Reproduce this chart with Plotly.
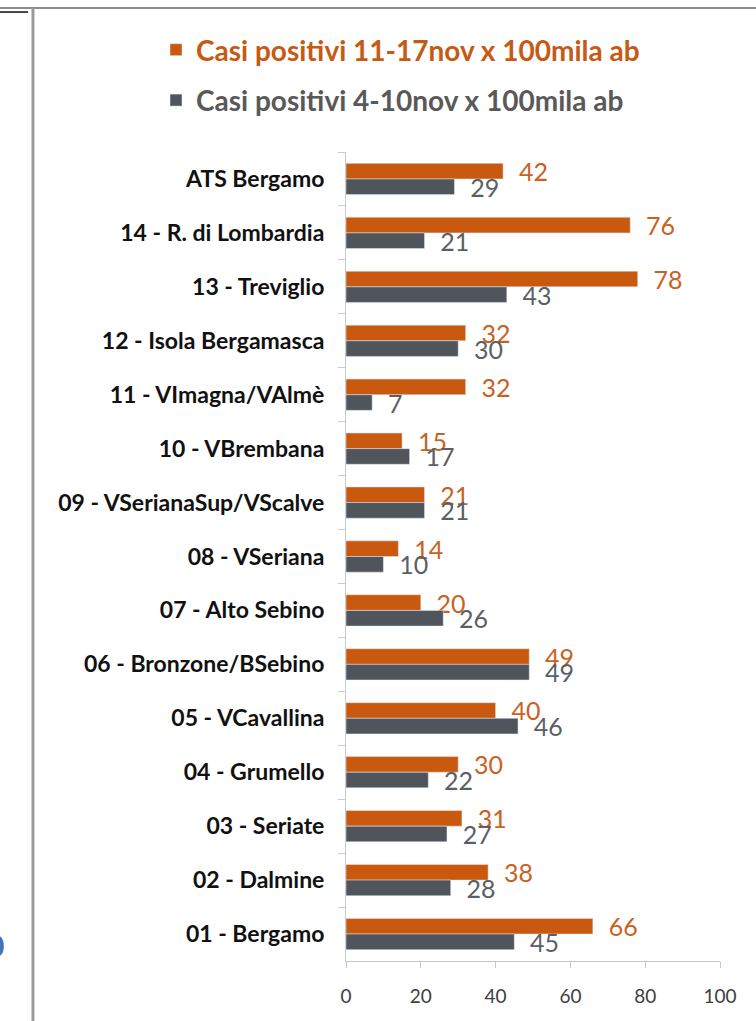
import plotly.graph_objects as go

# --- dati ---
categorie = [
    "ATS Bergamo", "14 - R. di Lombardia", "13 - Treviglio", "12 - Isola Bergamasca",
    "11 - VImagna/VAlmè", "10 - VBrembana", "09 - VSerianaSup/VScalve", "08 - VSeriana",
    "07 - Alto Sebino", "06 - Bronzone/BSebino", "05 - VCavallina", "04 - Grumello",
    "03 - Seriate", "02 - Dalmine", "01 - Bergamo",
]
casi_11_17nov = [42, 76, 78, 32, 32, 15, 21, 14, 20, 49, 40, 30, 31, 38, 66]
casi_4_10nov = [29, 21, 43, 30, 7, 17, 21, 10, 26, 49, 46, 22, 27, 28, 45]
tick_x = [0, 20, 40, 60, 80, 100]

arancio = "#C9590F"
grigio = "#50555B"
font_base = "Lato"

fig = go.Figure()

fig.add_trace(go.Bar(
    y=categorie, x=casi_11_17nov, orientation="h",
    name="<span style='color:#C65A14'>Casi positivi 11-17nov x 100mila ab</span>",
    marker_color=arancio, legendgroup="a",
    text=casi_11_17nov, texttemplate="\u00a0\u00a0%{x}", textposition="outside",
    textfont=dict(color="#C8621F", size=25, family=font_base),
    cliponaxis=False, constraintext="none",
))
fig.add_trace(go.Bar(
    y=categorie, x=casi_4_10nov, orientation="h",
    name="<span style='color:#595959'>Casi positivi 4-10nov x 100mila ab</span>",
    marker_color=grigio, legendgroup="b",
    text=casi_4_10nov, texttemplate="\u00a0\u00a0%{x}", textposition="outside",
    textfont=dict(color="#5A5F66", size=25, family=font_base),
    cliponaxis=False, constraintext="none",
))

# cornice dello screenshot
fig.add_shape(type="line", xref="paper", yref="paper",
              x0=-0.93, x1=1.1, y0=1.178, y1=1.178,
              line=dict(color="#8C8C8C", width=2))
fig.add_shape(type="line", xref="paper", yref="paper",
              x0=-0.93, x1=-0.85, y0=1.173, y1=1.173,
              line=dict(color="#444444", width=2))
fig.add_shape(type="line", xref="paper", yref="paper",
              x0=-0.837, x1=-0.837, y0=1.178, y1=-0.08,
              line=dict(color="#9A9A9A", width=3))
fig.add_annotation(xref="paper", yref="paper", x=-0.938, y=0.02,
                   text="<b>0</b>", showarrow=False, xanchor="center", yanchor="middle",
                   font=dict(size=30, color="#4A6FB5", family=font_base))

fig.update_layout(
    width=756, height=1021,
    margin=dict(l=346, r=36, t=152, b=60),
    paper_bgcolor="white", plot_bgcolor="white",
    barmode="group", bargap=0.42, bargroupgap=0,
    font=dict(family=font_base, color="#1A1A1A"),
    showlegend=True,
    legend=dict(
        x=-0.508, y=1.157, xanchor="left", yanchor="top",
        font=dict(size=28, family=font_base, weight="bold"),
        tracegroupgap=11, bgcolor="rgba(0,0,0,0)",
    ),
    xaxis=dict(
        range=[0, 100], tickvals=tick_x, showgrid=False, zeroline=False,
        showline=True, linecolor="#C8C8C8", linewidth=1,
        ticks="outside", ticklen=6, tickcolor="#C8C8C8",
        tickfont=dict(size=19, color="#404040"),
        ticklabelstandoff=12,
    ),
    yaxis=dict(
        autorange="reversed", showgrid=False, zeroline=False,
        showline=True, linecolor="#C8CCD4", linewidth=1,
        ticks="outside", ticklen=7, tickcolor="#C8CCD4", tickson="boundaries",
        tickfont=dict(size=23, color="#111111", weight="bold"),
        ticklabelstandoff=16,
    ),
)

fig.write_html("out.html", config={"displayModeBar": False},
               post_script="document.body.style.margin='0';")
